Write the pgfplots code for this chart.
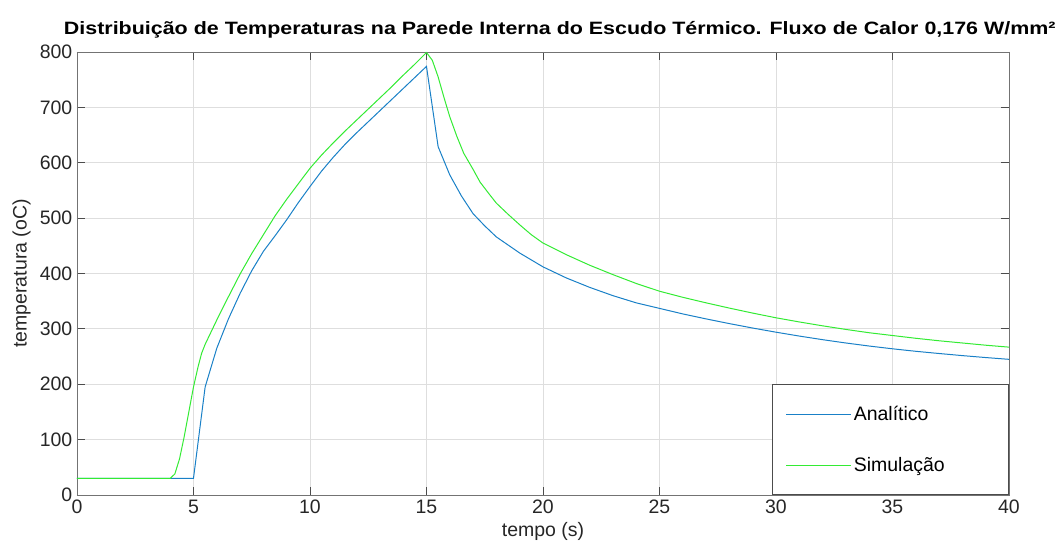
\documentclass[border=0pt]{standalone}
\usepackage{pgfplots}
\pgfplotsset{compat=1.18}
\usepackage{fontspec}
\setmainfont{Liberation Sans}
\definecolor{mblue}{rgb}{0.1,0.5,0.78}
\definecolor{mgreen}{rgb}{0.2,0.92,0.2}
\begin{document}
\begin{tikzpicture}
\begin{axis}[
  width=699pt, height=332.25pt, scale only axis,
  xmin=0, xmax=40, ymin=0, ymax=800,
  xtick={0,5,...,40}, ytick={0,100,...,800},
  grid=major,
  major grid style={draw=black!13, line width=0.6pt},
  axis line style={draw=black!55, line width=0.7pt},
  tick style={draw=black!70, line width=0.7pt},
  major tick length=6pt,
  tick align=inside,
  xtick pos=both, ytick pos=both,
  /pgf/number format/assume math mode=true,
  ticklabel style={font=\fontsize{14.6}{17}\selectfont, text=black!85},
  label style={font=\fontsize{14.6}{17}\selectfont, text=black!85},
  xlabel={tempo (s)}, ylabel={temperatura (oC)},
  title={\scalebox{1.2}[1]{Distribuição de Temperaturas na Parede Interna do Escudo Térmico. Fluxo de Calor 0,176 W/mm²}},
  title style={font=\bfseries\fontsize{13.4}{16}\selectfont, at={(0.518,1)}, anchor=base, yshift=7pt, inner sep=0pt},
  legend style={at={(rel axis cs:1,0)}, anchor=south east, draw=black!70, line width=0.7pt,
    font=\fontsize{14.6}{17}\selectfont, inner xsep=10pt, inner ysep=14pt, row sep=22pt,
    cells={anchor=west}},
  legend image code/.code={\draw[#1, line width=0.8pt] (0cm,0cm) -- (1.7cm,0cm);},
]
\coordinate (bl) at (rel axis cs:-0.0826,-0.1332);
\coordinate (tr) at (rel axis cs:1.0558,1.1174);
\addplot[mblue, line width=0.75pt] coordinates {
(0,30) (5,30) (5.5,195) (6,265) (6.5,318) (7,364) (7.5,405) (8,440) (8.5,468) (9,497)
(9.5,528) (10,557) (10.5,585) (11,610) (11.5,633) (12,654) (12.5,674) (13,694)
(13.5,714) (14,734) (14.5,754) (15,774) (15.5,629) (16,578) (16.5,540) (17,508)
(17.5,486) (18,466) (19,437) (20,412) (21,392) (22,375) (23,360) (24,347) (25,337)
(26,327) (27,318) (28,309.5) (29,301.5) (30,294) (31,287) (32,280.5) (33,274.5)
(34,269) (35,264) (36,259.5) (37,255.5) (38,251.7) (39,248.2) (40,245)
};
\addlegendentry{\makebox[104pt][l]{Analítico}}
\addplot[mgreen, line width=0.75pt] coordinates {
(0,30) (4,30) (4.2,38) (4.4,65) (4.6,105) (4.8,150) (5,195) (5.2,232) (5.35,256)
(5.5,272) (6,316) (6.5,358) (7,399) (7.5,436) (8,470) (8.5,504) (9,534) (9.5,562)
(10,590) (10.5,614) (11,636) (11.5,657) (12,677) (12.5,697) (13,717) (13.5,737)
(14,758) (14.5,778) (15,799) (15.25,785) (15.5,755) (15.75,718) (16,683) (16.3,648)
(16.6,617) (17,588) (17.3,565) (17.7,543) (18,527) (18.5,507) (19,488) (19.5,470) (20,455) (21,434) (22,415)
(23,398) (24,382) (25,368) (26,357) (27,347) (28,337.5) (29,328.5) (30,320)
(31,312.5) (32,305.5) (33,299) (34,293) (35,288) (36,283) (37,278.5) (38,274.5)
(39,270.5) (40,267)
};
\addlegendentry{\makebox[104pt][l]{Simulação}}
\end{axis}
\pgfresetboundingbox
\path[use as bounding box] (bl) rectangle (tr);
\end{tikzpicture}
\end{document}
